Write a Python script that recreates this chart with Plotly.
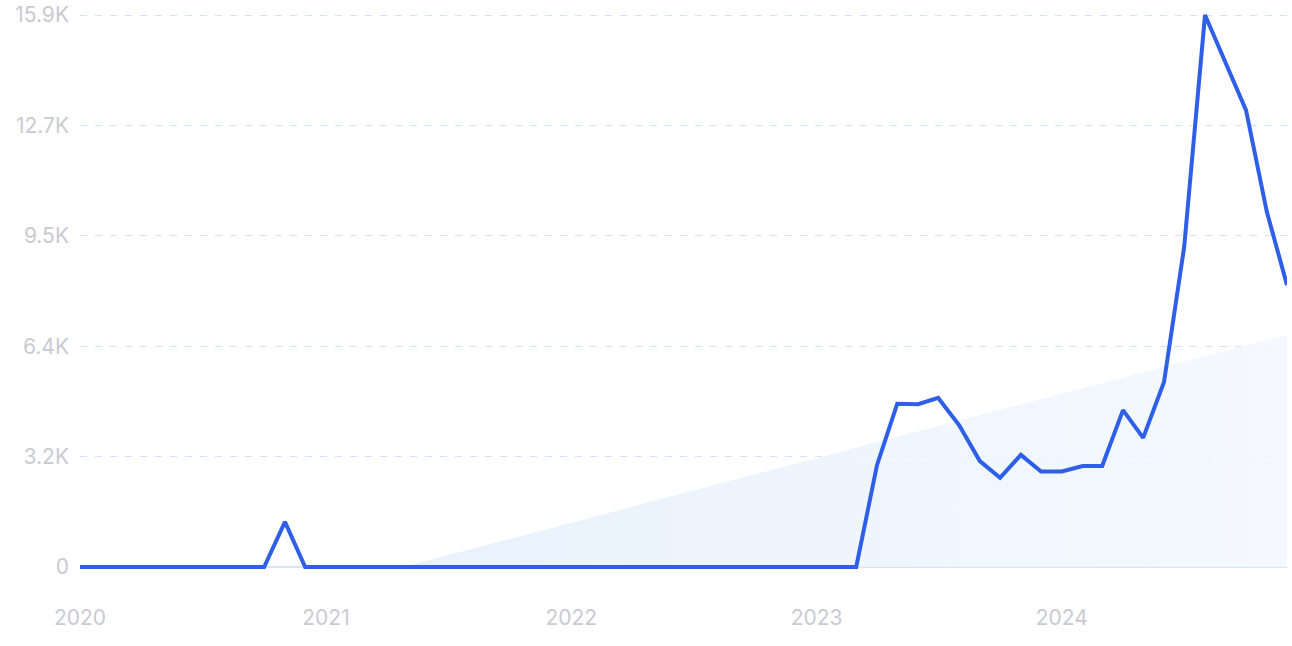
import numpy as np
import pandas as pd
import plotly.graph_objects as go

# Monthly values, Jan 2020 .. Dec 2024
months = pd.date_range("2020-01-01", "2024-12-01", freq="MS")
values = [
    0, 0, 0, 0, 0, 0, 0, 0, 0, 0, 1300, 0,          # 2020
    0, 0, 0, 0, 0, 0, 0, 0, 0, 0, 0, 0,             # 2021
    0, 0, 0, 0, 0, 0, 0, 0, 0, 0, 0, 0,             # 2022
    0, 0, 0, 2940, 4700, 4690, 4870, 4090, 3050, 2570, 3230, 2750,  # 2023
    2750, 2910, 2910, 4520, 3720, 5330, 9220, 15900, 14520, 13160, 10230, 8120,  # 2024
]
y_tick_vals = [0, 3180, 6360, 9540, 12720, 15900]
y_tick_text = ["0", "3.2K", "6.4K", "9.5K", "12.7K", "15.9K"]
x_tick_labels = ["2020", "2021", "2022", "2023", "2024"]

# Linear trend (least squares) clipped at zero
idx = np.arange(len(values))
slope, intercept = np.polyfit(idx, np.array(values, dtype=float), 1)
trend = np.clip(intercept + slope * idx, 0, None)
x0 = -intercept / slope
start_date = months[0] + pd.Timedelta(days=float(x0) * 30.44)
mask = idx > x0
trend_x = [start_date] + list(months[mask])
trend_y = [0.0] + list(trend[mask])

fig = go.Figure()
fig.add_trace(go.Scatter(
    x=trend_x, y=trend_y, mode="lines",
    line=dict(width=0, color="rgba(0,0,0,0)"),
    fill="tozeroy",
    fillgradient=dict(type="horizontal",
                      colorscale=[[0, "rgba(228,239,252,0.85)"], [1, "rgba(243,248,254,0.85)"]]),
    hoverinfo="skip", showlegend=False,
))
fig.add_trace(go.Scatter(
    x=months, y=values, mode="lines",
    line=dict(color="#2f5fe6", width=4),
    showlegend=False,
))

fig.update_layout(
    width=1292, height=646,
    margin=dict(l=80, r=5, t=5, b=69, autoexpand=False),
    paper_bgcolor="white", plot_bgcolor="white",
    font=dict(family="Inter, sans-serif", color="#c9cad3"),
)
fig.update_xaxes(
    range=[months[0], months[-1]],
    tickvals=[pd.Timestamp(f"{y}-01-01") for y in x_tick_labels],
    ticktext=x_tick_labels,
    tickfont=dict(size=21, color="#c9cad3"),
    showgrid=False, zeroline=False, showline=False,
    ticks="", ticklabelstandoff=26, automargin=False,
)
fig.update_yaxes(
    range=[-288, 16188],
    tickvals=y_tick_vals, ticktext=y_tick_text,
    tickfont=dict(size=21, color="#c9cad3"),
    showgrid=True, gridcolor="#d5e1fa", griddash="7px,8px", gridwidth=1,
    zeroline=True, zerolinecolor="#d8e4fb", zerolinewidth=1.5,
    ticks="", ticklabelstandoff=10, automargin=False,
)
fig.write_html(
    "out.html",
    config={"displayModeBar": False},
    post_script="document.body.style.margin='0';document.body.style.overflow='hidden';",
)
